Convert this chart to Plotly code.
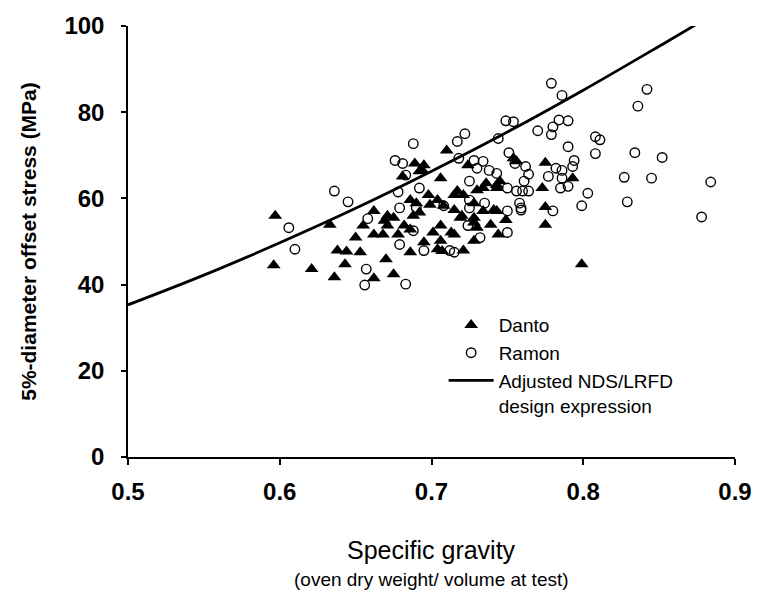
import plotly.graph_objects as go

# Danto (specific gravity, 5%-offset stress MPa)
danto_sg = [0.597, 0.596, 0.621, 0.633, 0.636, 0.638, 0.643, 0.644, 0.650, 0.653,
            0.655, 0.662, 0.662, 0.662, 0.668, 0.669, 0.670, 0.671, 0.671, 0.675,
            0.675, 0.678, 0.681, 0.682, 0.686, 0.686, 0.686, 0.688, 0.689, 0.690,
            0.692, 0.692, 0.694, 0.695, 0.695, 0.698, 0.699, 0.701, 0.704, 0.704,
            0.706, 0.706, 0.706, 0.707, 0.708, 0.710, 0.713, 0.715, 0.715, 0.715,
            0.717, 0.719, 0.720, 0.721, 0.721, 0.724, 0.728, 0.728, 0.728, 0.728,
            0.730, 0.730, 0.734, 0.734, 0.736, 0.739, 0.741, 0.743, 0.743, 0.743,
            0.744, 0.745, 0.749, 0.754, 0.756, 0.773, 0.775, 0.775, 0.775, 0.793,
            0.799]
danto_stress = [56.0, 44.5, 43.6, 53.9, 41.7, 47.9, 44.7, 47.7, 50.9, 47.5,
                53.7, 57.1, 41.5, 51.6, 51.6, 54.8, 45.9, 56.0, 53.7, 55.5,
                42.4, 51.6, 65.1, 53.7, 52.8, 47.5, 59.6, 56.0, 68.1, 58.9,
                56.7, 66.3, 66.5, 67.7, 49.8, 60.8, 58.5, 52.1, 48.2, 59.6,
                53.7, 50.2, 64.7, 47.8, 58.3, 71.1, 52.1, 60.8, 57.3, 51.6,
                61.7, 55.5, 56.0, 60.8, 47.9, 67.7, 58.9, 54.4, 50.2, 55.5,
                61.9, 53.2, 62.4, 57.1, 63.5, 53.9, 57.3, 63.1, 62.4, 57.1,
                51.6, 64.0, 55.0, 69.3, 68.6, 62.4, 68.3, 58.0, 53.9, 64.7,
                44.7]

# Ramon
ramon_sg = [0.606, 0.610, 0.636, 0.645, 0.656, 0.657, 0.658, 0.676, 0.678, 0.679,
            0.679, 0.681, 0.683, 0.683, 0.688, 0.688, 0.690, 0.692, 0.695, 0.708,
            0.712, 0.715, 0.717, 0.718, 0.722, 0.724, 0.725, 0.725, 0.725, 0.728,
            0.730, 0.732, 0.734, 0.735, 0.738, 0.743, 0.744, 0.749, 0.750, 0.750,
            0.750, 0.751, 0.754, 0.755, 0.756, 0.758, 0.759, 0.759, 0.760, 0.761,
            0.762, 0.764, 0.764, 0.770, 0.777, 0.779, 0.779, 0.780, 0.780, 0.782,
            0.784, 0.785, 0.786, 0.786, 0.786, 0.790, 0.790, 0.790, 0.793, 0.794,
            0.799, 0.803, 0.808, 0.808, 0.811, 0.827, 0.829, 0.834, 0.836, 0.842,
            0.845, 0.852, 0.878, 0.884]
ramon_stress = [53.2, 48.2, 61.7, 59.2, 39.9, 43.6, 55.3, 68.8, 61.5, 57.8,
                49.3, 68.1, 65.4, 40.1, 72.7, 52.5, 57.8, 62.4, 47.9, 58.3,
                47.9, 47.5, 73.2, 69.3, 75.0, 53.7, 64.0, 59.6, 57.8, 68.8,
                67.0, 50.9, 68.6, 58.9, 66.5, 65.8, 73.9, 78.0, 62.4, 57.1,
                52.1, 70.6, 77.8, 68.1, 61.7, 58.9, 57.8, 57.3, 61.7, 64.0,
                67.4, 65.6, 61.7, 75.7, 65.1, 86.7, 74.8, 76.6, 57.1, 67.0,
                78.2, 62.4, 83.9, 66.5, 64.7, 78.0, 72.0, 62.8, 67.4, 68.8,
                58.3, 61.2, 74.3, 70.4, 73.6, 64.9, 59.2, 70.6, 81.4, 85.3,
                64.7, 69.5, 55.7, 63.8]

# Adjusted NDS/LRFD design expression
design_sg = [0.50, 0.55, 0.60, 0.65, 0.70, 0.75, 0.80, 0.85, 0.875, 0.90]
design_stress = [35.3, 42.2, 49.7, 57.7, 66.3, 75.4, 85.1, 95.3, 100.5, 106.0]

FONT = "Liberation Sans, Arial, sans-serif"

fig = go.Figure()
fig.add_trace(go.Scatter(
    x=danto_sg, y=danto_stress, mode="markers", name="Danto",
    marker=dict(symbol="triangle-up", size=12, color="black")))
fig.add_trace(go.Scatter(
    x=ramon_sg, y=ramon_stress, mode="markers", name="Ramon",
    marker=dict(symbol="circle-open", size=9.5, color="black", line=dict(width=1.4))))
fig.add_trace(go.Scatter(
    x=design_sg, y=design_stress, mode="lines",
    name="Adjusted NDS/LRFD<br>design expression",
    line=dict(color="black", width=2.8, shape="spline"), cliponaxis=True))

fig.update_layout(
    width=764, height=594,
    margin=dict(l=128, r=23, t=21, b=137),
    paper_bgcolor="white", plot_bgcolor="white",
    font=dict(family=FONT, color="black"),
    showlegend=True,
    legend=dict(x=0.52, y=0.35, xanchor="left", yanchor="top",
                bgcolor="rgba(0,0,0,0)", font=dict(size=19, family=FONT),
                tracegroupgap=0, itemwidth=45, valign="top"),
    xaxis=dict(range=[0.5, 0.9], dtick=0.1, tick0=0.5, tickformat=".1f",
               showline=True, linecolor="black", linewidth=1.5,
               ticks="outside", ticklen=6, tickcolor="black", tickwidth=1.5,
               showgrid=False, zeroline=False,
               tickfont=dict(size=24, family=FONT, weight="bold"),
               ticklabelstandoff=6),
    yaxis=dict(range=[0, 100], dtick=20, tick0=0,
               showline=True, linecolor="black", linewidth=1.5,
               ticks="outside", ticklen=5, tickcolor="black", tickwidth=1.5,
               showgrid=False, zeroline=False,
               tickfont=dict(size=24, family=FONT, weight="bold"),
               ticklabelstandoff=12,
               title=dict(text="5%-diameter offset stress (MPa)",
                          font=dict(size=21, family=FONT, weight="bold"),
                          standoff=22)),
    annotations=[
        dict(text="Specific gravity", xref="paper", yref="paper",
             x=0.5, y=-0.215, xanchor="center", yanchor="middle",
             showarrow=False, font=dict(size=25, family=FONT)),
        dict(text="(oven dry weight/ volume at test)", xref="paper", yref="paper",
             x=0.5, y=-0.285, xanchor="center", yanchor="middle",
             showarrow=False, font=dict(size=19, family=FONT)),
    ],
)

fig.write_html("out.html")
